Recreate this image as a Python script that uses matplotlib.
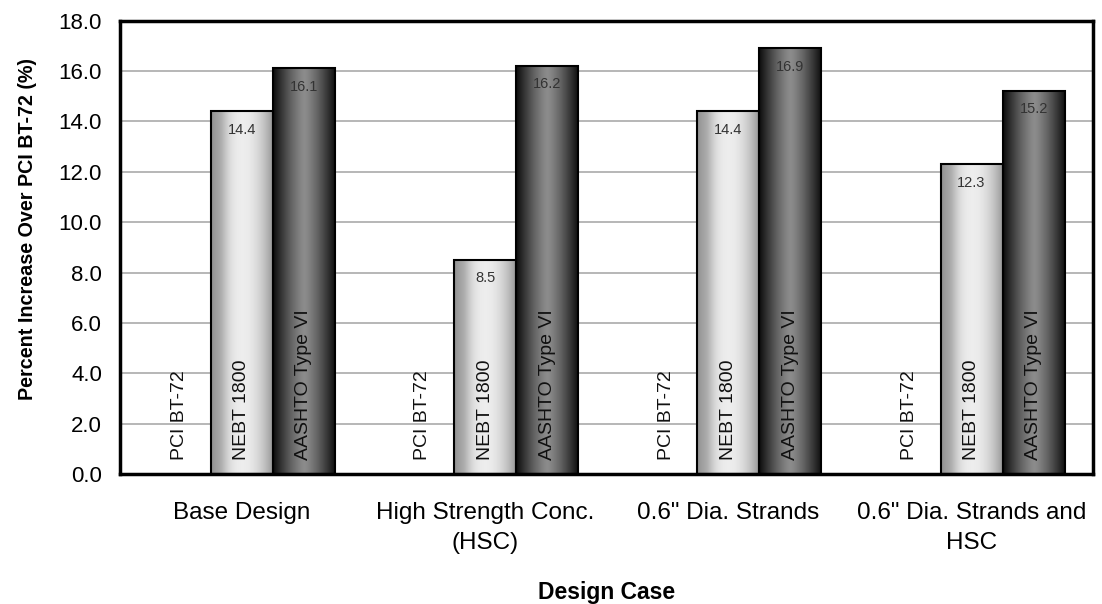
import numpy as np
import matplotlib.pyplot as plt

plt.rcParams["font.family"] = ["Liberation Sans", "DejaVu Sans"]

# data
cases = ['Base Design', 'High Strength Conc.\n(HSC)', '0.6" Dia. Strands', '0.6" Dia. Strands and\nHSC']
sections = ['PCI BT-72', 'NEBT 1800', 'AASHTO Type VI']
pci = [0.0, 0.0, 0.0, 0.0]
nebt = [14.4, 8.5, 14.4, 12.3]
aashto = [16.1, 16.2, 16.9, 15.2]
yticks = [0, 2, 4, 6, 8, 10, 12, 14, 16, 18]

fig, ax = plt.subplots(figsize=(11.02, 6.04), dpi=100)
fig.subplots_adjust(left=0.109, right=0.992, top=0.966, bottom=0.215)

x = np.arange(len(cases))
w = 0.255
offsets = [-w, 0, w]

# cylinder style shading profiles
t = np.linspace(0, 1, 64)
light = 0.93 - 0.35 * (2 * t - 1) ** 2
light = np.clip(light - 0.08 * np.exp(-((t - 0.15) / 0.12) ** 2), 0, 1)
dark = 0.55 - 0.5 * np.abs(2 * t - 1) ** 1.3
shade = {1: light, 2: dark}

for k, vals in enumerate([pci, nebt, aashto]):
    for i, v in enumerate(vals):
        xl = x[i] + offsets[k] - w / 2
        if v > 0:
            rect = ax.bar(xl, v, width=w, align='edge', facecolor='none',
                          edgecolor='black', linewidth=1.5, zorder=3)[0]
            img = ax.imshow(np.tile(shade[k], (2, 1)), cmap='gray', vmin=0, vmax=1,
                            extent=[xl, xl + w, 0, v], aspect='auto',
                            interpolation='bicubic', zorder=2)
            img.set_clip_path(rect)
            ax.text(xl + w / 2, v - 0.45, f'{v:.1f}', ha='center', va='top',
                    fontsize=10.5, color='#333333', zorder=4)
        ax.text(xl + w / 2, 0.55, sections[k], rotation=90, ha='center', va='bottom',
                fontsize=14, color='#111111', zorder=4)

ax.set_xlim(-0.5, len(cases) - 0.5)
ax.set_ylim(0, 18)
ax.set_yticks(yticks)
ax.set_yticklabels([f'{v:.1f}' for v in yticks], fontsize=16)
ax.set_xticks(x)
ax.set_xticklabels(cases, fontsize=17.5, linespacing=1.45)
ax.tick_params(length=0)
ax.tick_params(axis='y', pad=13)
ax.tick_params(axis='x', pad=20)
ax.yaxis.grid(True, color='#aaaaaa', linewidth=1.2)
ax.set_axisbelow(True)
for s in ax.spines.values():
    s.set_linewidth(2.5)

ax.set_xlabel('Design Case', fontsize=16.5, fontweight='bold')
ax.xaxis.set_label_coords(0.5, -0.235)
ax.set_ylabel('Percent Increase Over PCI BT-72 (%)', fontsize=14.2, fontweight='bold')
ax.yaxis.set_label_coords(-0.085, 0.54)

fig.savefig('out.png', dpi=100)
